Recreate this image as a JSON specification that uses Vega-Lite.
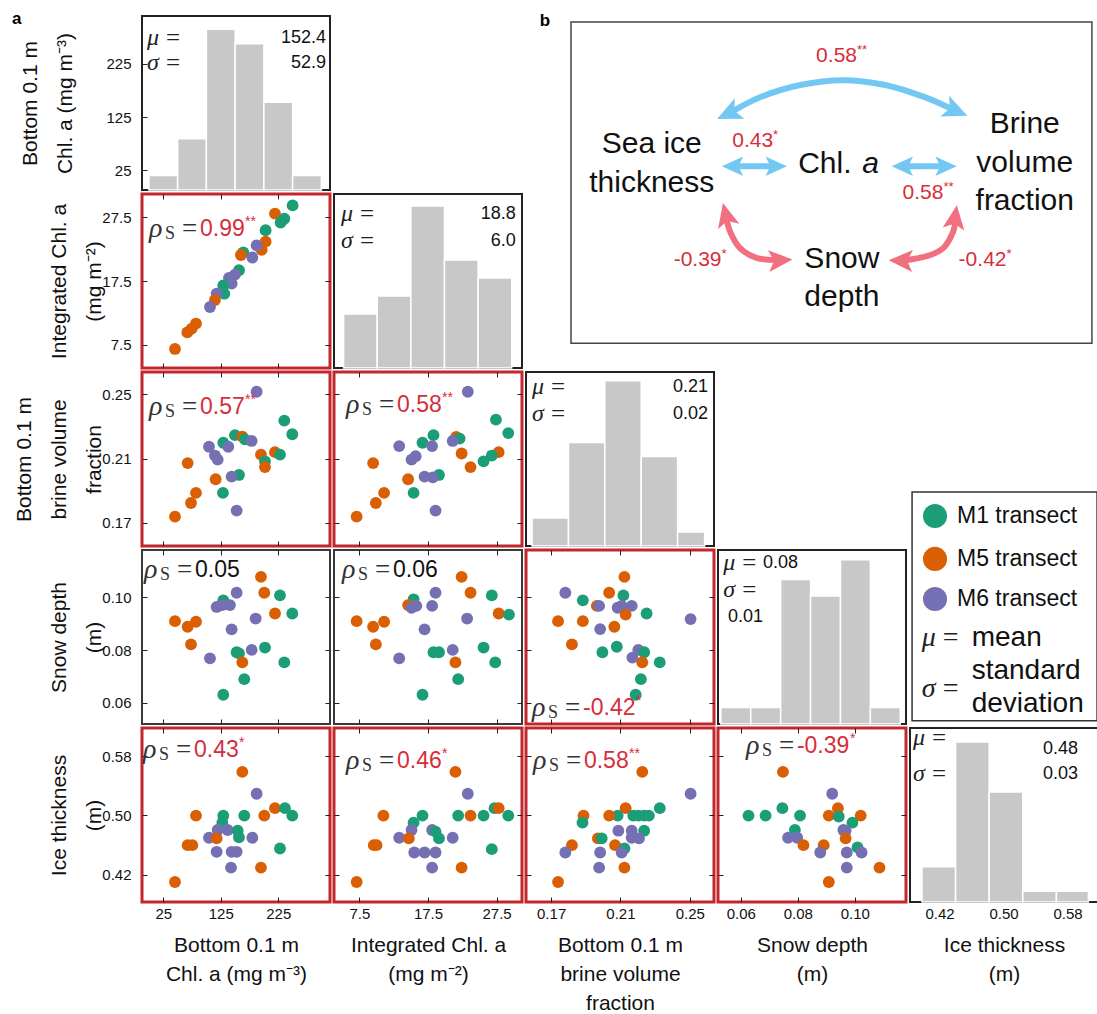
{
"$schema":"https://vega.github.io/schema/vega-lite/v6.json",
"padding":{"left":11,"top":8,"right":0,"bottom":0},
"config":{
 "font":"Liberation Sans",
 "view":{"stroke":null},
 "axis":{"domain":false,"grid":false,"tickColor":"#222","tickSize":-5,"tickWidth":1,"labelFont":"Liberation Sans","labelFontSize":15,"labelColor":"#111","titleFont":"Liberation Sans","titleFontSize":21,"titleFontWeight":"normal","titleColor":"#111"},
 "axisY":{"labelPadding":16,"titlePadding":-3,"titleLineHeight":35},
 "axisX":{"labelPadding":9,"titlePadding":13,"titleLineHeight":29}
},
"bounds":"flush","spacing":4,"columns":5,
"concat":[
  {"width":188,"height":174,"view":{"stroke":"#222","strokeWidth":2},
   "resolve":{"scale":{"y":"independent"}},
   "layer":[
    {"encoding":{
      "x":{"field":"x","type":"quantitative","scale":{"domain":[-12,315],"nice":false,"zero":false},"axis":{"values":[25,125,225],"labels":false,"title":null}},
      "y":{"field":"y","type":"quantitative","scale":{"domain":[0,11.9],"nice":false,"zero":false},"axis":null}},
     "layer":[
      {"data":{"values":[{"x":0,"x2":50,"y":1},{"x":50,"x2":100,"y":3.5},{"x":100,"x2":150,"y":11},{"x":150,"x2":200,"y":10},{"x":200,"x2":250,"y":6},{"x":250,"x2":300,"y":1}]},
       "mark":{"type":"rect","fill":"#c8c8c8","stroke":"#ffffff","strokeWidth":1.5},
       "encoding":{"x2":{"field":"x2"},"y2":{"datum":0}}},
      {"data":{"values":[{"x":-3.3,"y":10.4,"s":"μ"},{"x":-3.3,"y":8.7,"s":"σ"}]},
       "layer":[
        {"mark":{"type":"text","font":"Liberation Serif","fontStyle":"italic","fontSize":24,"align":"left","baseline":"middle","color":"#222"},"encoding":{"text":{"field":"s"}}},
        {"mark":{"type":"text","text":"=","font":"Liberation Serif","fontSize":25,"align":"left","baseline":"middle","dx":19,"color":"#222"}}
       ]},
      {"data":{"values":[{"x":308,"y":10.4,"s":"152.4"},{"x":308,"y":8.7,"s":"52.9"}]},
       "mark":{"type":"text","fontSize":18,"align":"right","baseline":"middle","color":"#111"},"encoding":{"text":{"field":"s"}}}
     ]},
    {"data":{"values":[{"x":-238,"y":309.4}]},
     "mark":{"type":"text","text":"a","fontWeight":"bold","fontSize":17,"align":"left","baseline":"middle","color":"#000"},
     "encoding":{
      "x":{"field":"x","type":"quantitative","scale":{"domain":[-12,315],"nice":false,"zero":false},"axis":{"values":[25,125,225],"labels":false,"title":null}},
      "y":{"field":"y","type":"quantitative","scale":{"domain":[-12,315],"nice":false,"zero":false},"axis":{"values":[25,125,225],"format":"d","titlePadding":30,"title":["Bottom 0.1 m","Chl. a (mg m⁻³)"]}}}}
   ]},
  {"width":188,"height":174,"data":{"values":[]},"mark":"point"},
  {"width":188,"height":174,
   "encoding":{
    "x":{"field":"x","type":"quantitative","scale":{"domain":[-8.64,27.45],"nice":false,"zero":false},"axis":null},
    "y":{"field":"y","type":"quantitative","scale":{"domain":[-1.87,52.3],"reverse":true,"nice":false,"zero":false},"axis":null}},
   "layer":[
    {"data":{"values":[{"x":0,"y":0,"x2":100,"y2":100}]},"mark":{"type":"rect","fill":"#ffffff","fillOpacity":0,"stroke":"#444","strokeWidth":1.5},"encoding":{"x2":{"field":"x2"},"y2":{"field":"y2"}}},
    {"data":{"values":[
      {"g":"top","o":0,"x":30.5,"y":28.3,"c":"#72c8f2"},{"g":"top","o":1,"x":36.3,"y":23.4,"c":"#72c8f2"},{"g":"top","o":2,"x":44.0,"y":19.6,"c":"#72c8f2"},{"g":"top","o":3,"x":52.2,"y":18.1,"c":"#72c8f2"},{"g":"top","o":4,"x":60.3,"y":19.6,"c":"#72c8f2"},{"g":"top","o":5,"x":67.9,"y":23.4,"c":"#72c8f2"},{"g":"top","o":6,"x":73.6,"y":27.5,"c":"#72c8f2"},
      {"g":"l","o":0,"x":31.3,"y":44.9,"c":"#72c8f2"},{"g":"l","o":1,"x":39.1,"y":44.9,"c":"#72c8f2"},
      {"g":"r","o":0,"x":63.9,"y":44.9,"c":"#72c8f2"},{"g":"r","o":1,"x":71.7,"y":44.9,"c":"#72c8f2"},
      {"g":"pl","o":0,"x":29.8,"y":60.5,"c":"#f1707f"},{"g":"pl","o":1,"x":30.5,"y":65.1,"c":"#f1707f"},{"g":"pl","o":2,"x":32.4,"y":70.3,"c":"#f1707f"},{"g":"pl","o":3,"x":35.6,"y":73.4,"c":"#f1707f"},{"g":"pl","o":4,"x":39.9,"y":74.2,"c":"#f1707f"},
      {"g":"pr","o":0,"x":73.7,"y":61.3,"c":"#f1707f"},{"g":"pr","o":1,"x":73.4,"y":65.1,"c":"#f1707f"},{"g":"pr","o":2,"x":71.5,"y":70.3,"c":"#f1707f"},{"g":"pr","o":3,"x":68.3,"y":72.9,"c":"#f1707f"},{"g":"pr","o":4,"x":63.6,"y":74.3,"c":"#f1707f"}
     ]},
     "mark":{"type":"line","interpolate":"cardinal","strokeWidth":6,"strokeCap":"butt"},
     "encoding":{"detail":{"field":"g"},"order":{"field":"o","type":"quantitative"},"color":{"field":"c","type":"nominal","scale":null}}},
    {"data":{"values":[
      {"x":30.5,"y":28.3,"a":245,"z":800,"c":"#72c8f2"},{"x":73.6,"y":27.5,"a":113,"z":800,"c":"#72c8f2"},
      {"x":31.3,"y":44.9,"a":270,"z":600,"c":"#72c8f2"},{"x":39.1,"y":44.9,"a":90,"z":600,"c":"#72c8f2"},
      {"x":63.9,"y":44.9,"a":270,"z":600,"c":"#72c8f2"},{"x":71.7,"y":44.9,"a":90,"z":600,"c":"#72c8f2"},
      {"x":29.8,"y":60.5,"a":346,"z":750,"c":"#f1707f"},{"x":39.9,"y":74.2,"a":86,"z":750,"c":"#f1707f"},
      {"x":73.7,"y":61.3,"a":8,"z":750,"c":"#f1707f"},{"x":63.6,"y":74.3,"a":272,"z":750,"c":"#f1707f"}
     ]},
     "mark":{"type":"point","shape":"M0,-1L0.8,0.75L0,0.35L-0.8,0.75Z","filled":true,"opacity":1},
     "encoding":{"angle":{"field":"a","type":"quantitative","scale":null},"size":{"field":"z","type":"quantitative","scale":null},"color":{"field":"c","type":"nominal","scale":null}}},
    {"data":{"values":[{"x":15.5,"y":38.1,"s":"Sea ice"},{"x":15.5,"y":50.1,"s":"thickness"},{"x":87.1,"y":31.9,"s":"Brine"},{"x":87.1,"y":43.8,"s":"volume"},{"x":87.1,"y":55.8,"s":"fraction"},{"x":52.0,"y":73.9,"s":"Snow"},{"x":52.0,"y":85.7,"s":"depth"}]},
     "mark":{"type":"text","fontSize":30,"align":"center","baseline":"middle","color":"#111"},"encoding":{"text":{"field":"s"}}},
    {"data":{"values":[{"x":43.6,"y":44.3}]},"mark":{"type":"text","text":"Chl.","fontSize":30,"align":"left","baseline":"middle","color":"#111"}},
    {"data":{"values":[{"x":55.9,"y":44.3}]},"mark":{"type":"text","text":"a","fontSize":30,"fontStyle":"italic","align":"left","baseline":"middle","color":"#111"}},
    {"data":{"values":[{"x":54.9,"y":10.6,"s":"0.58","st":"**"},{"x":38.8,"y":37.1,"s":"0.43","st":"*"},{"x":71.5,"y":53.2,"s":"0.58","st":"**"},{"x":28.9,"y":74.2,"s":"-0.39","st":"*"},{"x":83.6,"y":74.2,"s":"-0.42","st":"*"}]},
     "layer":[
      {"mark":{"type":"text","fontSize":21,"align":"right","baseline":"middle","color":"#d62e3a"},"encoding":{"text":{"field":"s"}}},
      {"mark":{"type":"text","fontSize":13,"align":"left","baseline":"middle","dy":-6,"color":"#d62e3a"},"encoding":{"text":{"field":"st"}}}
     ]},
    {"data":{"values":[{"x":-6,"y":-0.3}]},"mark":{"type":"text","text":"b","fontWeight":"bold","fontSize":17,"align":"left","baseline":"middle","color":"#000"}}
   ]},
  {"width":188,"height":174,"data":{"values":[]},"mark":"point"},
  {"width":188,"height":174,"data":{"values":[]},"mark":"point"},

  {"width":188,"height":174,"view":{"stroke":"#c1272d","strokeWidth":3},
   "encoding":{
    "x":{"field":"x","type":"quantitative","scale":{"domain":[-12,315],"nice":false,"zero":false},"axis":{"orient":"bottom","values":[25,125,225],"labels":false,"title":null}},
    "y":{"field":"y","type":"quantitative","scale":{"domain":[3.8,31.2],"nice":false,"zero":false},"axis":{"orient":"left","values":[7.5,17.5,27.5],"format":".1f","title":["Integrated Chl. a","(mg m⁻²)"]}}},
   "layer":[
    {"data":{"values":[{"x":250,"y":29.4,"t":"M1"},{"x":219.3,"y":28.1,"t":"M5"},{"x":235.5,"y":27.3,"t":"M1"},{"x":229.1,"y":26.7,"t":"M1"},{"x":203,"y":25.5,"t":"M1"},{"x":203,"y":23.7,"t":"M5"},{"x":196.1,"y":22.4,"t":"M5"},{"x":187.4,"y":23.1,"t":"M6"},{"x":164.2,"y":22.0,"t":"M1"},{"x":160.1,"y":21.6,"t":"M5"},{"x":179.9,"y":21.2,"t":"M6"},{"x":156.7,"y":19.2,"t":"M1"},{"x":149.7,"y":18.5,"t":"M6"},{"x":139.3,"y":18.0,"t":"M6"},{"x":143.9,"y":17.1,"t":"M6"},{"x":129.4,"y":16.8,"t":"M1"},{"x":131.2,"y":15.5,"t":"M1"},{"x":117.8,"y":15.5,"t":"M6"},{"x":114.9,"y":14.5,"t":"M5"},{"x":106.2,"y":13.4,"t":"M6"},{"x":81.9,"y":10.8,"t":"M5"},{"x":74.3,"y":10.0,"t":"M5"},{"x":66.8,"y":9.4,"t":"M5"},{"x":45.4,"y":6.8,"t":"M5"}]},
     "mark":{"type":"circle","size":140,"opacity":1},
     "encoding":{"color":{"field":"t","type":"nominal","scale":{"domain":["M1","M5","M6"],"range":["#1b9e77","#d95f02","#7570b3"]},"legend":null}}},
    {"data":{"values":[{"x":0.2,"y":25.7}]},
     "encoding":{
      "x":{"field":"x","type":"quantitative","scale":{"domain":[-12,315],"nice":false,"zero":false},"axis":{"orient":"top","values":[25,125,225],"labels":false,"title":null}},
      "y":{"field":"y","type":"quantitative","scale":{"domain":[3.8,31.2],"nice":false,"zero":false},"axis":{"orient":"right","values":[7.5,17.5,27.5],"labels":false,"title":null}}},
     "layer":[
      {"mark":{"type":"text","text":"ρ","font":"Liberation Serif","fontStyle":"italic","fontSize":28,"align":"left","baseline":"middle","color":"#333"}},
      {"mark":{"type":"text","text":"S","font":"Liberation Serif","fontSize":18,"align":"left","baseline":"middle","dx":16,"dy":5,"color":"#333"}},
      {"mark":{"type":"text","text":"=","font":"Liberation Serif","fontSize":27,"align":"left","baseline":"middle","dx":33,"color":"#333"}},
      {"mark":{"type":"text","text":"0.99","fontSize":23,"align":"left","baseline":"middle","dx":51,"color":"#d62e3a"}},
      {"mark":{"type":"text","text":"**","fontSize":14,"align":"left","baseline":"middle","dx":96,"dy":-7,"color":"#d62e3a"}}
     ]}
   ]},
  {"width":188,"height":174,"view":{"stroke":"#222","strokeWidth":2},
   "encoding":{
    "x":{"field":"x","type":"quantitative","scale":{"domain":[3.8,31.2],"nice":false,"zero":false},"axis":{"values":[7.5,17.5,27.5],"labels":false,"title":null}},
    "y":{"field":"y","type":"quantitative","scale":{"domain":[0,9.67],"nice":false,"zero":false},"axis":null}},
   "layer":[
    {"data":{"values":[{"x":5.2,"x2":10.1,"y":3},{"x":10.1,"x2":15.0,"y":4},{"x":15.0,"x2":19.9,"y":9},{"x":19.9,"x2":24.8,"y":6},{"x":24.8,"x2":29.7,"y":5}]},
     "mark":{"type":"rect","fill":"#c8c8c8","stroke":"#ffffff","strokeWidth":1.5},
     "encoding":{"x2":{"field":"x2"},"y2":{"datum":0}}},
    {"data":{"values":[{"x":4.82,"y":8.56,"s":"μ"},{"x":4.82,"y":7.06,"s":"σ"}]},
     "layer":[
      {"mark":{"type":"text","font":"Liberation Serif","fontStyle":"italic","fontSize":24,"align":"left","baseline":"middle","color":"#222"},"encoding":{"text":{"field":"s"}}},
      {"mark":{"type":"text","text":"=","font":"Liberation Serif","fontSize":25,"align":"left","baseline":"middle","dx":19,"color":"#222"}}
     ]},
    {"data":{"values":[{"x":30.3,"y":8.56,"s":"18.8"},{"x":30.3,"y":7.06,"s":"6.0"}]},
     "mark":{"type":"text","fontSize":18,"align":"right","baseline":"middle","color":"#111"},"encoding":{"text":{"field":"s"}}}
   ]},
  {"width":188,"height":174,"data":{"values":[]},"mark":"point"},
  {"width":188,"height":174,"data":{"values":[]},"mark":"point"},
  {"width":188,"height":174,"data":{"values":[]},"mark":"point"},

  {"width":188,"height":174,"view":{"stroke":"#c1272d","strokeWidth":3},
   "encoding":{
    "x":{"field":"x","type":"quantitative","scale":{"domain":[-12,315],"nice":false,"zero":false},"axis":{"orient":"bottom","values":[25,125,225],"labels":false,"title":null}},
    "y":{"field":"y","type":"quantitative","scale":{"domain":[0.1555,0.264],"nice":false,"zero":false},"axis":{"orient":"left","values":[0.17,0.21,0.25],"format":".2f","title":["Bottom 0.1 m","brine volume","fraction"]}}},
   "layer":[
    {"data":{"values":[{"x":187.4,"y":0.2517,"t":"M6"},{"x":235.5,"y":0.2337,"t":"M1"},{"x":249.4,"y":0.2252,"t":"M1"},{"x":149.7,"y":0.2246,"t":"M1"},{"x":162.5,"y":0.2237,"t":"M5"},{"x":167.1,"y":0.222,"t":"M1"},{"x":178.7,"y":0.221,"t":"M6"},{"x":129.4,"y":0.2199,"t":"M1"},{"x":104.5,"y":0.2174,"t":"M6"},{"x":138.1,"y":0.2174,"t":"M6"},{"x":114.9,"y":0.2119,"t":"M6"},{"x":119.6,"y":0.2094,"t":"M6"},{"x":194.9,"y":0.2125,"t":"M5"},{"x":219.3,"y":0.214,"t":"M5"},{"x":228,"y":0.2125,"t":"M1"},{"x":201.9,"y":0.2083,"t":"M1"},{"x":201.9,"y":0.2047,"t":"M5"},{"x":67.4,"y":0.2072,"t":"M5"},{"x":156.7,"y":0.1998,"t":"M1"},{"x":143.9,"y":0.1988,"t":"M6"},{"x":116.1,"y":0.1971,"t":"M5"},{"x":81.9,"y":0.1886,"t":"M5"},{"x":128.8,"y":0.1886,"t":"M1"},{"x":73.2,"y":0.1823,"t":"M5"},{"x":152.6,"y":0.1776,"t":"M6"},{"x":45.4,"y":0.1738,"t":"M5"}]},
     "mark":{"type":"circle","size":140,"opacity":1},
     "encoding":{"color":{"field":"t","type":"nominal","scale":{"domain":["M1","M5","M6"],"range":["#1b9e77","#d95f02","#7570b3"]},"legend":null}}},
    {"data":{"values":[{"x":0.2,"y":0.2422}]},
     "encoding":{
      "x":{"field":"x","type":"quantitative","scale":{"domain":[-12,315],"nice":false,"zero":false},"axis":{"orient":"top","values":[25,125,225],"labels":false,"title":null}},
      "y":{"field":"y","type":"quantitative","scale":{"domain":[0.1555,0.264],"nice":false,"zero":false},"axis":{"orient":"right","values":[0.17,0.21,0.25],"labels":false,"title":null}}},
     "layer":[
      {"mark":{"type":"text","text":"ρ","font":"Liberation Serif","fontStyle":"italic","fontSize":28,"align":"left","baseline":"middle","color":"#333"}},
      {"mark":{"type":"text","text":"S","font":"Liberation Serif","fontSize":18,"align":"left","baseline":"middle","dx":16,"dy":5,"color":"#333"}},
      {"mark":{"type":"text","text":"=","font":"Liberation Serif","fontSize":27,"align":"left","baseline":"middle","dx":33,"color":"#333"}},
      {"mark":{"type":"text","text":"0.57","fontSize":23,"align":"left","baseline":"middle","dx":51,"color":"#d62e3a"}},
      {"mark":{"type":"text","text":"**","fontSize":14,"align":"left","baseline":"middle","dx":96,"dy":-7,"color":"#d62e3a"}}
     ]}
   ]},
  {"width":188,"height":174,"view":{"stroke":"#c1272d","strokeWidth":3},
   "encoding":{
    "x":{"field":"x","type":"quantitative","scale":{"domain":[3.8,31.2],"nice":false,"zero":false},"axis":{"orient":"bottom","values":[7.5,17.5,27.5],"labels":false,"title":null}},
    "y":{"field":"y","type":"quantitative","scale":{"domain":[0.1555,0.264],"nice":false,"zero":false},"axis":{"orient":"left","values":[0.17,0.21,0.25],"labels":false,"title":null}}},
   "layer":[
    {"data":{"values":[{"x":23.3,"y":0.2517,"t":"M6"},{"x":27.4,"y":0.2343,"t":"M1"},{"x":29.2,"y":0.2259,"t":"M1"},{"x":18.3,"y":0.2246,"t":"M1"},{"x":21.6,"y":0.2235,"t":"M5"},{"x":22.1,"y":0.2225,"t":"M1"},{"x":21.1,"y":0.221,"t":"M6"},{"x":16.7,"y":0.2199,"t":"M1"},{"x":18.1,"y":0.2178,"t":"M6"},{"x":13.3,"y":0.2178,"t":"M6"},{"x":15.7,"y":0.2115,"t":"M6"},{"x":15.1,"y":0.2094,"t":"M6"},{"x":22.4,"y":0.2132,"t":"M5"},{"x":27.8,"y":0.214,"t":"M5"},{"x":26.8,"y":0.2119,"t":"M1"},{"x":25.6,"y":0.2083,"t":"M1"},{"x":23.7,"y":0.2047,"t":"M5"},{"x":9.5,"y":0.2072,"t":"M5"},{"x":19.1,"y":0.1998,"t":"M1"},{"x":17.0,"y":0.1988,"t":"M6"},{"x":18.2,"y":0.1983,"t":"M6"},{"x":14.6,"y":0.1971,"t":"M5"},{"x":11.1,"y":0.1886,"t":"M5"},{"x":15.4,"y":0.1886,"t":"M1"},{"x":9.9,"y":0.1823,"t":"M5"},{"x":18.6,"y":0.1776,"t":"M6"},{"x":7.1,"y":0.1738,"t":"M5"}]},
     "mark":{"type":"circle","size":140,"opacity":1},
     "encoding":{"color":{"field":"t","type":"nominal","scale":{"domain":["M1","M5","M6"],"range":["#1b9e77","#d95f02","#7570b3"]},"legend":null}}},
    {"data":{"values":[{"x":5.55,"y":0.2434}]},
     "encoding":{
      "x":{"field":"x","type":"quantitative","scale":{"domain":[3.8,31.2],"nice":false,"zero":false},"axis":{"orient":"top","values":[7.5,17.5,27.5],"labels":false,"title":null}},
      "y":{"field":"y","type":"quantitative","scale":{"domain":[0.1555,0.264],"nice":false,"zero":false},"axis":{"orient":"right","values":[0.17,0.21,0.25],"labels":false,"title":null}}},
     "layer":[
      {"mark":{"type":"text","text":"ρ","font":"Liberation Serif","fontStyle":"italic","fontSize":28,"align":"left","baseline":"middle","color":"#333"}},
      {"mark":{"type":"text","text":"S","font":"Liberation Serif","fontSize":18,"align":"left","baseline":"middle","dx":16,"dy":5,"color":"#333"}},
      {"mark":{"type":"text","text":"=","font":"Liberation Serif","fontSize":27,"align":"left","baseline":"middle","dx":33,"color":"#333"}},
      {"mark":{"type":"text","text":"0.58","fontSize":23,"align":"left","baseline":"middle","dx":51,"color":"#d62e3a"}},
      {"mark":{"type":"text","text":"**","fontSize":14,"align":"left","baseline":"middle","dx":96,"dy":-7,"color":"#d62e3a"}}
     ]}
   ]},
  {"width":188,"height":174,"view":{"stroke":"#222","strokeWidth":2},
   "encoding":{
    "x":{"field":"x","type":"quantitative","scale":{"domain":[0.1555,0.264],"nice":false,"zero":false},"axis":{"values":[0.17,0.21,0.25],"labels":false,"title":null}},
    "y":{"field":"y","type":"quantitative","scale":{"domain":[0,12.43],"nice":false,"zero":false},"axis":null}},
   "layer":[
    {"data":{"values":[{"x":0.159,"x2":0.180,"y":2},{"x":0.180,"x2":0.201,"y":7.4},{"x":0.201,"x2":0.222,"y":11.8},{"x":0.222,"x2":0.243,"y":6.4},{"x":0.243,"x2":0.2586,"y":1}]},
     "mark":{"type":"rect","fill":"#c8c8c8","stroke":"#ffffff","strokeWidth":1.5},
     "encoding":{"x2":{"field":"x2"},"y2":{"datum":0}}},
    {"data":{"values":[{"x":0.159,"y":11.35,"s":"μ"},{"x":0.159,"y":9.43,"s":"σ"}]},
     "layer":[
      {"mark":{"type":"text","font":"Liberation Serif","fontStyle":"italic","fontSize":24,"align":"left","baseline":"middle","color":"#222"},"encoding":{"text":{"field":"s"}}},
      {"mark":{"type":"text","text":"=","font":"Liberation Serif","fontSize":25,"align":"left","baseline":"middle","dx":19,"color":"#222"}}
     ]},
    {"data":{"values":[{"x":0.2605,"y":11.35,"s":"0.21"},{"x":0.2605,"y":9.43,"s":"0.02"}]},
     "mark":{"type":"text","fontSize":18,"align":"right","baseline":"middle","color":"#111"},"encoding":{"text":{"field":"s"}}}
   ]},
  {"width":188,"height":174,"data":{"values":[]},"mark":"point"},
  {"width":188,"height":174,"data":{"values":[]},"mark":"point"},

  {"width":188,"height":174,"view":{"stroke":"#3a3a3a","strokeWidth":2},
   "encoding":{
    "x":{"field":"x","type":"quantitative","scale":{"domain":[-12,315],"nice":false,"zero":false},"axis":{"orient":"bottom","values":[25,125,225],"labels":false,"title":null}},
    "y":{"field":"y","type":"quantitative","scale":{"domain":[0.052,0.118],"nice":false,"zero":false},"axis":{"orient":"left","values":[0.06,0.08,0.10],"format":".2f","title":["Snow depth","(m)"]}}},
   "layer":[
    {"data":{"values":[{"x":194.9,"y":0.1078,"t":"M5"},{"x":200.7,"y":0.1018,"t":"M5"},{"x":152.6,"y":0.1018,"t":"M6"},{"x":228,"y":0.1008,"t":"M1"},{"x":129.4,"y":0.0989,"t":"M1"},{"x":117.8,"y":0.0964,"t":"M6"},{"x":127.7,"y":0.0971,"t":"M6"},{"x":141,"y":0.0971,"t":"M6"},{"x":219.3,"y":0.0939,"t":"M5"},{"x":249.4,"y":0.0939,"t":"M1"},{"x":185.7,"y":0.092,"t":"M6"},{"x":45.4,"y":0.091,"t":"M5"},{"x":67.4,"y":0.0889,"t":"M5"},{"x":81.9,"y":0.0908,"t":"M5"},{"x":143.9,"y":0.0879,"t":"M6"},{"x":73.2,"y":0.0822,"t":"M5"},{"x":201.9,"y":0.081,"t":"M1"},{"x":178.7,"y":0.0801,"t":"M6"},{"x":152.6,"y":0.0792,"t":"M1"},{"x":156.7,"y":0.0788,"t":"M1"},{"x":106.2,"y":0.0769,"t":"M6"},{"x":162.5,"y":0.0754,"t":"M5"},{"x":235.5,"y":0.0754,"t":"M1"},{"x":165.9,"y":0.069,"t":"M1"},{"x":129.4,"y":0.0631,"t":"M1"}]},
     "mark":{"type":"circle","size":140,"opacity":1},
     "encoding":{"color":{"field":"t","type":"nominal","scale":{"domain":["M1","M5","M6"],"range":["#1b9e77","#d95f02","#7570b3"]},"legend":null}}},
    {"data":{"values":[{"x":-8.5,"y":0.1104}]},
     "encoding":{
      "x":{"field":"x","type":"quantitative","scale":{"domain":[-12,315],"nice":false,"zero":false},"axis":{"orient":"top","values":[25,125,225],"labels":false,"title":null}},
      "y":{"field":"y","type":"quantitative","scale":{"domain":[0.052,0.118],"nice":false,"zero":false},"axis":{"orient":"right","values":[0.06,0.08,0.10],"labels":false,"title":null}}},
     "layer":[
      {"mark":{"type":"text","text":"ρ","font":"Liberation Serif","fontStyle":"italic","fontSize":28,"align":"left","baseline":"middle","color":"#333"}},
      {"mark":{"type":"text","text":"S","font":"Liberation Serif","fontSize":18,"align":"left","baseline":"middle","dx":16,"dy":5,"color":"#333"}},
      {"mark":{"type":"text","text":"=","font":"Liberation Serif","fontSize":27,"align":"left","baseline":"middle","dx":33,"color":"#333"}},
      {"mark":{"type":"text","text":"0.05","fontSize":23,"align":"left","baseline":"middle","dx":51,"color":"#111"}}
     ]}
   ]},
  {"width":188,"height":174,"view":{"stroke":"#3a3a3a","strokeWidth":2},
   "encoding":{
    "x":{"field":"x","type":"quantitative","scale":{"domain":[3.8,31.2],"nice":false,"zero":false},"axis":{"orient":"bottom","values":[7.5,17.5,27.5],"labels":false,"title":null}},
    "y":{"field":"y","type":"quantitative","scale":{"domain":[0.052,0.118],"nice":false,"zero":false},"axis":{"orient":"left","values":[0.06,0.08,0.10],"labels":false,"title":null}}},
   "layer":[
    {"data":{"values":[{"x":22.4,"y":0.1078,"t":"M5"},{"x":23.7,"y":0.1018,"t":"M5"},{"x":18.6,"y":0.1018,"t":"M6"},{"x":26.8,"y":0.1008,"t":"M1"},{"x":15.4,"y":0.0993,"t":"M1"},{"x":14.6,"y":0.0971,"t":"M5"},{"x":15.1,"y":0.0961,"t":"M6"},{"x":15.8,"y":0.0968,"t":"M6"},{"x":18.1,"y":0.0968,"t":"M6"},{"x":27.8,"y":0.0939,"t":"M5"},{"x":29.3,"y":0.0935,"t":"M1"},{"x":23.2,"y":0.092,"t":"M6"},{"x":7.1,"y":0.091,"t":"M5"},{"x":9.5,"y":0.0889,"t":"M5"},{"x":11.1,"y":0.0908,"t":"M5"},{"x":17.0,"y":0.0879,"t":"M6"},{"x":9.9,"y":0.0822,"t":"M5"},{"x":25.6,"y":0.081,"t":"M1"},{"x":21.1,"y":0.0801,"t":"M6"},{"x":18.3,"y":0.0792,"t":"M1"},{"x":19.1,"y":0.0792,"t":"M1"},{"x":13.3,"y":0.0769,"t":"M6"},{"x":21.5,"y":0.0754,"t":"M5"},{"x":27.3,"y":0.0754,"t":"M1"},{"x":21.9,"y":0.069,"t":"M1"},{"x":16.7,"y":0.0631,"t":"M1"}]},
     "mark":{"type":"circle","size":140,"opacity":1},
     "encoding":{"color":{"field":"t","type":"nominal","scale":{"domain":["M1","M5","M6"],"range":["#1b9e77","#d95f02","#7570b3"]},"legend":null}}},
    {"data":{"values":[{"x":4.97,"y":0.1104}]},
     "encoding":{
      "x":{"field":"x","type":"quantitative","scale":{"domain":[3.8,31.2],"nice":false,"zero":false},"axis":{"orient":"top","values":[7.5,17.5,27.5],"labels":false,"title":null}},
      "y":{"field":"y","type":"quantitative","scale":{"domain":[0.052,0.118],"nice":false,"zero":false},"axis":{"orient":"right","values":[0.06,0.08,0.10],"labels":false,"title":null}}},
     "layer":[
      {"mark":{"type":"text","text":"ρ","font":"Liberation Serif","fontStyle":"italic","fontSize":28,"align":"left","baseline":"middle","color":"#333"}},
      {"mark":{"type":"text","text":"S","font":"Liberation Serif","fontSize":18,"align":"left","baseline":"middle","dx":16,"dy":5,"color":"#333"}},
      {"mark":{"type":"text","text":"=","font":"Liberation Serif","fontSize":27,"align":"left","baseline":"middle","dx":33,"color":"#333"}},
      {"mark":{"type":"text","text":"0.06","fontSize":23,"align":"left","baseline":"middle","dx":51,"color":"#111"}}
     ]}
   ]},
  {"width":188,"height":174,"view":{"stroke":"#c1272d","strokeWidth":3},
   "encoding":{
    "x":{"field":"x","type":"quantitative","scale":{"domain":[0.1555,0.264],"nice":false,"zero":false},"axis":{"orient":"bottom","values":[0.17,0.21,0.25],"labels":false,"title":null}},
    "y":{"field":"y","type":"quantitative","scale":{"domain":[0.052,0.118],"nice":false,"zero":false},"axis":{"orient":"left","values":[0.06,0.08,0.10],"labels":false,"title":null}}},
   "layer":[
    {"data":{"values":[{"x":0.2123,"y":0.1078,"t":"M5"},{"x":0.1782,"y":0.1018,"t":"M6"},{"x":0.2035,"y":0.1018,"t":"M5"},{"x":0.2117,"y":0.1008,"t":"M1"},{"x":0.1883,"y":0.0989,"t":"M1"},{"x":0.1964,"y":0.0968,"t":"M5"},{"x":0.1977,"y":0.0968,"t":"M6"},{"x":0.2084,"y":0.0961,"t":"M6"},{"x":0.2107,"y":0.0968,"t":"M6"},{"x":0.2165,"y":0.0968,"t":"M6"},{"x":0.213,"y":0.0935,"t":"M5"},{"x":0.2251,"y":0.0939,"t":"M1"},{"x":0.2505,"y":0.0918,"t":"M6"},{"x":0.174,"y":0.091,"t":"M5"},{"x":0.1883,"y":0.091,"t":"M5"},{"x":0.2065,"y":0.0889,"t":"M5"},{"x":0.1983,"y":0.088,"t":"M6"},{"x":0.182,"y":0.0822,"t":"M5"},{"x":0.2079,"y":0.0813,"t":"M1"},{"x":0.1996,"y":0.0792,"t":"M1"},{"x":0.2203,"y":0.0801,"t":"M6"},{"x":0.2237,"y":0.0792,"t":"M1"},{"x":0.2169,"y":0.0772,"t":"M6"},{"x":0.2226,"y":0.0754,"t":"M5"},{"x":0.2327,"y":0.0754,"t":"M1"},{"x":0.2218,"y":0.069,"t":"M1"},{"x":0.2188,"y":0.0631,"t":"M1"}]},
     "mark":{"type":"circle","size":140,"opacity":1},
     "encoding":{"color":{"field":"t","type":"nominal","scale":{"domain":["M1","M5","M6"],"range":["#1b9e77","#d95f02","#7570b3"]},"legend":null}}},
    {"data":{"values":[{"x":0.159,"y":0.0581}]},
     "encoding":{
      "x":{"field":"x","type":"quantitative","scale":{"domain":[0.1555,0.264],"nice":false,"zero":false},"axis":{"orient":"top","values":[0.17,0.21,0.25],"labels":false,"title":null}},
      "y":{"field":"y","type":"quantitative","scale":{"domain":[0.052,0.118],"nice":false,"zero":false},"axis":{"orient":"right","values":[0.06,0.08,0.10],"labels":false,"title":null}}},
     "layer":[
      {"mark":{"type":"text","text":"ρ","font":"Liberation Serif","fontStyle":"italic","fontSize":28,"align":"left","baseline":"middle","color":"#333"}},
      {"mark":{"type":"text","text":"S","font":"Liberation Serif","fontSize":18,"align":"left","baseline":"middle","dx":16,"dy":5,"color":"#333"}},
      {"mark":{"type":"text","text":"=","font":"Liberation Serif","fontSize":27,"align":"left","baseline":"middle","dx":33,"color":"#333"}},
      {"mark":{"type":"text","text":"-0.42","fontSize":23,"align":"left","baseline":"middle","dx":51,"color":"#d62e3a"}},
      {"mark":{"type":"text","text":"*","fontSize":14,"align":"left","baseline":"middle","dx":104,"dy":-7,"color":"#d62e3a"}}
     ]}
   ]},
  {"width":188,"height":174,"view":{"stroke":"#222","strokeWidth":2},
   "encoding":{
    "x":{"field":"x","type":"quantitative","scale":{"domain":[0.052,0.118],"nice":false,"zero":false},"axis":{"values":[0.06,0.08,0.10],"labels":false,"title":null}},
    "y":{"field":"y","type":"quantitative","scale":{"domain":[0,10.6],"nice":false,"zero":false},"axis":null}},
   "layer":[
    {"data":{"values":[{"x":0.053,"x2":0.0635,"y":1},{"x":0.0635,"x2":0.074,"y":1},{"x":0.074,"x2":0.0845,"y":8.8},{"x":0.0845,"x2":0.095,"y":7.8},{"x":0.095,"x2":0.1055,"y":10},{"x":0.1055,"x2":0.116,"y":1}]},
     "mark":{"type":"rect","fill":"#c8c8c8","stroke":"#ffffff","strokeWidth":1.5},
     "encoding":{"x2":{"field":"x2"},"y2":{"datum":0}}},
    {"data":{"values":[{"x":0.0538,"y":9.81,"s":"μ"},{"x":0.0538,"y":8.16,"s":"σ"}]},
     "layer":[
      {"mark":{"type":"text","font":"Liberation Serif","fontStyle":"italic","fontSize":24,"align":"left","baseline":"middle","color":"#222"},"encoding":{"text":{"field":"s"}}},
      {"mark":{"type":"text","text":"=","font":"Liberation Serif","fontSize":25,"align":"left","baseline":"middle","dx":19,"color":"#222"}}
     ]},
    {"data":{"values":[{"x":0.0678,"y":9.81,"s":"0.08"},{"x":0.0555,"y":6.52,"s":"0.01"}]},
     "mark":{"type":"text","fontSize":18,"align":"left","baseline":"middle","color":"#111"},"encoding":{"text":{"field":"s"}}}
   ]},
  {"width":188,"height":174,
   "encoding":{
    "x":{"field":"x","type":"quantitative","scale":{"domain":[0,100],"nice":false,"zero":false},"axis":null},
    "y":{"field":"y","type":"quantitative","scale":{"domain":[50.57,100],"reverse":true,"nice":false,"zero":false},"axis":null}},
   "layer":[
    {"data":{"values":[{"x":1.1,"y":34.1,"x2":99.5,"y2":99.1}]},"mark":{"type":"rect","fill":"#ffffff","fillOpacity":0,"stroke":"#333","strokeWidth":1.5},"encoding":{"x2":{"field":"x2"},"y2":{"field":"y2"}}},
    {"data":{"values":[{"x":13.3,"y":40.9,"t":"M1"},{"x":13.3,"y":53.1,"t":"M5"},{"x":13.3,"y":64.5,"t":"M6"}]},"mark":{"type":"circle","size":580,"opacity":1},
     "encoding":{"color":{"field":"t","type":"nominal","scale":{"domain":["M1","M5","M6"],"range":["#1b9e77","#d95f02","#7570b3"]},"legend":null}}},
    {"data":{"values":[{"x":25,"y":40.9,"s":"M1 transect"},{"x":25,"y":53.1,"s":"M5 transect"},{"x":25,"y":64.5,"s":"M6 transect"}]},"mark":{"type":"text","fontSize":23,"align":"left","baseline":"middle","color":"#111"},"encoding":{"text":{"field":"s"}}},
    {"data":{"values":[{"x":6.2,"y":75.5,"s":"μ"},{"x":6.2,"y":90.1,"s":"σ"}]},
     "layer":[
      {"mark":{"type":"text","font":"Liberation Serif","fontStyle":"italic","fontSize":28,"align":"left","baseline":"middle","color":"#222"},"encoding":{"text":{"field":"s"}}},
      {"mark":{"type":"text","text":"=","font":"Liberation Serif","fontSize":28,"align":"left","baseline":"middle","dx":21,"color":"#222"}}
     ]},
    {"data":{"values":[{"x":32.8,"y":75.5,"s":"mean"},{"x":32.8,"y":84.9,"s":"standard"},{"x":32.8,"y":94.3,"s":"deviation"}]},"mark":{"type":"text","fontSize":28,"align":"left","baseline":"middle","color":"#111"},"encoding":{"text":{"field":"s"}}}
   ]},

  {"width":188,"height":174,"view":{"stroke":"#c1272d","strokeWidth":3},
   "encoding":{
    "x":{"field":"x","type":"quantitative","scale":{"domain":[-12,315],"nice":false,"zero":false},"axis":{"orient":"bottom","values":[25,125,225],"format":"d","title":["Bottom 0.1 m","Chl. a (mg m⁻³)"]}},
    "y":{"field":"y","type":"quantitative","scale":{"domain":[0.383,0.618],"nice":false,"zero":false},"axis":{"orient":"left","values":[0.42,0.50,0.58],"format":".2f","title":["Ice thickness","(m)"]}}},
   "layer":[
    {"data":{"values":[{"x":162.5,"y":0.5587,"t":"M5"},{"x":187.4,"y":0.5292,"t":"M6"},{"x":219.3,"y":0.5097,"t":"M5"},{"x":236.7,"y":0.5097,"t":"M1"},{"x":249.4,"y":0.4997,"t":"M1"},{"x":81.9,"y":0.4997,"t":"M5"},{"x":129.4,"y":0.4997,"t":"M1"},{"x":165.9,"y":0.4997,"t":"M1"},{"x":200.7,"y":0.4997,"t":"M5"},{"x":127.7,"y":0.4902,"t":"M1"},{"x":119.6,"y":0.4802,"t":"M6"},{"x":137,"y":0.4802,"t":"M6"},{"x":154.4,"y":0.4793,"t":"M1"},{"x":156.7,"y":0.4703,"t":"M1"},{"x":104.5,"y":0.4698,"t":"M6"},{"x":117.8,"y":0.4689,"t":"M5"},{"x":179.9,"y":0.4698,"t":"M6"},{"x":67.4,"y":0.4598,"t":"M5"},{"x":75.5,"y":0.4598,"t":"M5"},{"x":228,"y":0.4553,"t":"M1"},{"x":117.8,"y":0.4508,"t":"M6"},{"x":143.9,"y":0.4508,"t":"M6"},{"x":152.6,"y":0.4508,"t":"M6"},{"x":142.8,"y":0.4295,"t":"M6"},{"x":194.9,"y":0.4295,"t":"M5"},{"x":45.4,"y":0.41,"t":"M5"}]},
     "mark":{"type":"circle","size":140,"opacity":1},
     "encoding":{"color":{"field":"t","type":"nominal","scale":{"domain":["M1","M5","M6"],"range":["#1b9e77","#d95f02","#7570b3"]},"legend":null}}},
    {"data":{"values":[{"x":-10.3,"y":0.5883}]},
     "encoding":{
      "x":{"field":"x","type":"quantitative","scale":{"domain":[-12,315],"nice":false,"zero":false},"axis":{"orient":"top","values":[25,125,225],"labels":false,"title":null}},
      "y":{"field":"y","type":"quantitative","scale":{"domain":[0.383,0.618],"nice":false,"zero":false},"axis":{"orient":"right","values":[0.42,0.50,0.58],"labels":false,"title":null}}},
     "layer":[
      {"mark":{"type":"text","text":"ρ","font":"Liberation Serif","fontStyle":"italic","fontSize":28,"align":"left","baseline":"middle","color":"#333"}},
      {"mark":{"type":"text","text":"S","font":"Liberation Serif","fontSize":18,"align":"left","baseline":"middle","dx":16,"dy":5,"color":"#333"}},
      {"mark":{"type":"text","text":"=","font":"Liberation Serif","fontSize":27,"align":"left","baseline":"middle","dx":33,"color":"#333"}},
      {"mark":{"type":"text","text":"0.43","fontSize":23,"align":"left","baseline":"middle","dx":51,"color":"#d62e3a"}},
      {"mark":{"type":"text","text":"*","fontSize":14,"align":"left","baseline":"middle","dx":96,"dy":-7,"color":"#d62e3a"}}
     ]}
   ]},
  {"width":188,"height":174,"view":{"stroke":"#c1272d","strokeWidth":3},
   "encoding":{
    "x":{"field":"x","type":"quantitative","scale":{"domain":[3.8,31.2],"nice":false,"zero":false},"axis":{"orient":"bottom","values":[7.5,17.5,27.5],"format":".1f","title":["Integrated Chl. a","(mg m⁻²)"]}},
    "y":{"field":"y","type":"quantitative","scale":{"domain":[0.383,0.618],"nice":false,"zero":false},"axis":{"orient":"left","values":[0.42,0.50,0.58],"labels":false,"title":null}}},
   "layer":[
    {"data":{"values":[{"x":21.5,"y":0.5587,"t":"M5"},{"x":23.3,"y":0.5292,"t":"M6"},{"x":27.2,"y":0.5097,"t":"M1"},{"x":27.8,"y":0.5097,"t":"M5"},{"x":16.7,"y":0.4997,"t":"M1"},{"x":11.0,"y":0.4997,"t":"M5"},{"x":21.9,"y":0.4997,"t":"M1"},{"x":23.7,"y":0.4997,"t":"M5"},{"x":25.6,"y":0.4997,"t":"M1"},{"x":29.2,"y":0.4997,"t":"M1"},{"x":15.4,"y":0.4902,"t":"M1"},{"x":15.1,"y":0.4802,"t":"M6"},{"x":18.1,"y":0.4802,"t":"M6"},{"x":18.6,"y":0.478,"t":"M1"},{"x":19.1,"y":0.4689,"t":"M1"},{"x":13.3,"y":0.4698,"t":"M6"},{"x":14.7,"y":0.4689,"t":"M5"},{"x":21.1,"y":0.4698,"t":"M6"},{"x":9.6,"y":0.4598,"t":"M5"},{"x":10.0,"y":0.4598,"t":"M5"},{"x":26.8,"y":0.4544,"t":"M1"},{"x":15.5,"y":0.4499,"t":"M6"},{"x":17.0,"y":0.4499,"t":"M6"},{"x":18.6,"y":0.4499,"t":"M6"},{"x":18.1,"y":0.4295,"t":"M6"},{"x":22.4,"y":0.4295,"t":"M5"},{"x":7.1,"y":0.41,"t":"M5"}]},
     "mark":{"type":"circle","size":140,"opacity":1},
     "encoding":{"color":{"field":"t","type":"nominal","scale":{"domain":["M1","M5","M6"],"range":["#1b9e77","#d95f02","#7570b3"]},"legend":null}}},
    {"data":{"values":[{"x":5.55,"y":0.5735}]},
     "encoding":{
      "x":{"field":"x","type":"quantitative","scale":{"domain":[3.8,31.2],"nice":false,"zero":false},"axis":{"orient":"top","values":[7.5,17.5,27.5],"labels":false,"title":null}},
      "y":{"field":"y","type":"quantitative","scale":{"domain":[0.383,0.618],"nice":false,"zero":false},"axis":{"orient":"right","values":[0.42,0.50,0.58],"labels":false,"title":null}}},
     "layer":[
      {"mark":{"type":"text","text":"ρ","font":"Liberation Serif","fontStyle":"italic","fontSize":28,"align":"left","baseline":"middle","color":"#333"}},
      {"mark":{"type":"text","text":"S","font":"Liberation Serif","fontSize":18,"align":"left","baseline":"middle","dx":16,"dy":5,"color":"#333"}},
      {"mark":{"type":"text","text":"=","font":"Liberation Serif","fontSize":27,"align":"left","baseline":"middle","dx":33,"color":"#333"}},
      {"mark":{"type":"text","text":"0.46","fontSize":23,"align":"left","baseline":"middle","dx":51,"color":"#d62e3a"}},
      {"mark":{"type":"text","text":"*","fontSize":14,"align":"left","baseline":"middle","dx":96,"dy":-7,"color":"#d62e3a"}}
     ]}
   ]},
  {"width":188,"height":174,"view":{"stroke":"#c1272d","strokeWidth":3},
   "encoding":{
    "x":{"field":"x","type":"quantitative","scale":{"domain":[0.1555,0.264],"nice":false,"zero":false},"axis":{"orient":"bottom","values":[0.17,0.21,0.25],"format":".2f","title":["Bottom 0.1 m","brine volume","fraction"]}},
    "y":{"field":"y","type":"quantitative","scale":{"domain":[0.383,0.618],"nice":false,"zero":false},"axis":{"orient":"left","values":[0.42,0.50,0.58],"labels":false,"title":null}}},
   "layer":[
    {"data":{"values":[{"x":0.2226,"y":0.5587,"t":"M5"},{"x":0.2505,"y":0.5292,"t":"M6"},{"x":0.2327,"y":0.5097,"t":"M1"},{"x":0.213,"y":0.5097,"t":"M5"},{"x":0.2084,"y":0.4997,"t":"M1"},{"x":0.2035,"y":0.4997,"t":"M5"},{"x":0.1887,"y":0.4997,"t":"M5"},{"x":0.2174,"y":0.4997,"t":"M1"},{"x":0.2203,"y":0.4997,"t":"M1"},{"x":0.2237,"y":0.4997,"t":"M1"},{"x":0.2264,"y":0.4997,"t":"M1"},{"x":0.1881,"y":0.4902,"t":"M1"},{"x":0.2088,"y":0.4793,"t":"M6"},{"x":0.2237,"y":0.4793,"t":"M1"},{"x":0.2165,"y":0.4793,"t":"M6"},{"x":0.197,"y":0.4689,"t":"M5"},{"x":0.1992,"y":0.4689,"t":"M1"},{"x":0.2165,"y":0.4698,"t":"M6"},{"x":0.2207,"y":0.4689,"t":"M6"},{"x":0.182,"y":0.4598,"t":"M5"},{"x":0.2069,"y":0.4598,"t":"M5"},{"x":0.2123,"y":0.4553,"t":"M1"},{"x":0.1782,"y":0.4499,"t":"M6"},{"x":0.1983,"y":0.4499,"t":"M6"},{"x":0.2107,"y":0.4499,"t":"M6"},{"x":0.1977,"y":0.4295,"t":"M6"},{"x":0.2123,"y":0.4295,"t":"M5"},{"x":0.174,"y":0.41,"t":"M5"}]},
     "mark":{"type":"circle","size":140,"opacity":1},
     "encoding":{"color":{"field":"t","type":"nominal","scale":{"domain":["M1","M5","M6"],"range":["#1b9e77","#d95f02","#7570b3"]},"legend":null}}},
    {"data":{"values":[{"x":0.1595,"y":0.5735}]},
     "encoding":{
      "x":{"field":"x","type":"quantitative","scale":{"domain":[0.1555,0.264],"nice":false,"zero":false},"axis":{"orient":"top","values":[0.17,0.21,0.25],"labels":false,"title":null}},
      "y":{"field":"y","type":"quantitative","scale":{"domain":[0.383,0.618],"nice":false,"zero":false},"axis":{"orient":"right","values":[0.42,0.50,0.58],"labels":false,"title":null}}},
     "layer":[
      {"mark":{"type":"text","text":"ρ","font":"Liberation Serif","fontStyle":"italic","fontSize":28,"align":"left","baseline":"middle","color":"#333"}},
      {"mark":{"type":"text","text":"S","font":"Liberation Serif","fontSize":18,"align":"left","baseline":"middle","dx":16,"dy":5,"color":"#333"}},
      {"mark":{"type":"text","text":"=","font":"Liberation Serif","fontSize":27,"align":"left","baseline":"middle","dx":33,"color":"#333"}},
      {"mark":{"type":"text","text":"0.58","fontSize":23,"align":"left","baseline":"middle","dx":51,"color":"#d62e3a"}},
      {"mark":{"type":"text","text":"**","fontSize":14,"align":"left","baseline":"middle","dx":96,"dy":-7,"color":"#d62e3a"}}
     ]}
   ]},
  {"width":188,"height":174,"view":{"stroke":"#c1272d","strokeWidth":3},
   "encoding":{
    "x":{"field":"x","type":"quantitative","scale":{"domain":[0.052,0.118],"nice":false,"zero":false},"axis":{"orient":"bottom","values":[0.06,0.08,0.10],"format":".2f","title":["Snow depth","(m)"]}},
    "y":{"field":"y","type":"quantitative","scale":{"domain":[0.383,0.618],"nice":false,"zero":false},"axis":{"orient":"left","values":[0.42,0.50,0.58],"labels":false,"title":null}}},
   "layer":[
    {"data":{"values":[{"x":0.0748,"y":0.5587,"t":"M5"},{"x":0.0921,"y":0.5292,"t":"M6"},{"x":0.0941,"y":0.5097,"t":"M5"},{"x":0.0627,"y":0.4997,"t":"M1"},{"x":0.0687,"y":0.4997,"t":"M1"},{"x":0.0746,"y":0.5097,"t":"M1"},{"x":0.0808,"y":0.4997,"t":"M1"},{"x":0.0909,"y":0.4997,"t":"M5"},{"x":0.0944,"y":0.4984,"t":"M1"},{"x":0.1021,"y":0.4997,"t":"M5"},{"x":0.0992,"y":0.4902,"t":"M1"},{"x":0.079,"y":0.4802,"t":"M1"},{"x":0.096,"y":0.4802,"t":"M6"},{"x":0.0968,"y":0.4793,"t":"M6"},{"x":0.0766,"y":0.4698,"t":"M6"},{"x":0.0798,"y":0.4698,"t":"M6"},{"x":0.0968,"y":0.4689,"t":"M5"},{"x":0.082,"y":0.4598,"t":"M5"},{"x":0.0891,"y":0.4598,"t":"M5"},{"x":0.101,"y":0.4567,"t":"M1"},{"x":0.0879,"y":0.4499,"t":"M6"},{"x":0.0972,"y":0.4499,"t":"M6"},{"x":0.1024,"y":0.4499,"t":"M6"},{"x":0.0972,"y":0.4295,"t":"M6"},{"x":0.1087,"y":0.4295,"t":"M5"},{"x":0.0909,"y":0.41,"t":"M5"}]},
     "mark":{"type":"circle","size":140,"opacity":1},
     "encoding":{"color":{"field":"t","type":"nominal","scale":{"domain":["M1","M5","M6"],"range":["#1b9e77","#d95f02","#7570b3"]},"legend":null}}},
    {"data":{"values":[{"x":0.0618,"y":0.5937}]},
     "encoding":{
      "x":{"field":"x","type":"quantitative","scale":{"domain":[0.052,0.118],"nice":false,"zero":false},"axis":{"orient":"top","values":[0.06,0.08,0.10],"labels":false,"title":null}},
      "y":{"field":"y","type":"quantitative","scale":{"domain":[0.383,0.618],"nice":false,"zero":false},"axis":{"orient":"right","values":[0.42,0.50,0.58],"labels":false,"title":null}}},
     "layer":[
      {"mark":{"type":"text","text":"ρ","font":"Liberation Serif","fontStyle":"italic","fontSize":28,"align":"left","baseline":"middle","color":"#333"}},
      {"mark":{"type":"text","text":"S","font":"Liberation Serif","fontSize":18,"align":"left","baseline":"middle","dx":16,"dy":5,"color":"#333"}},
      {"mark":{"type":"text","text":"=","font":"Liberation Serif","fontSize":27,"align":"left","baseline":"middle","dx":33,"color":"#333"}},
      {"mark":{"type":"text","text":"-0.39","fontSize":23,"align":"left","baseline":"middle","dx":51,"color":"#d62e3a"}},
      {"mark":{"type":"text","text":"*","fontSize":14,"align":"left","baseline":"middle","dx":104,"dy":-7,"color":"#d62e3a"}}
     ]}
   ]},
  {"width":188,"height":174,"view":{"stroke":"#222","strokeWidth":2},
   "encoding":{
    "x":{"field":"x","type":"quantitative","scale":{"domain":[0.383,0.618],"nice":false,"zero":false},"axis":{"values":[0.42,0.50,0.58],"format":".2f","title":["Ice thickness","(m)"]}},
    "y":{"field":"y","type":"quantitative","scale":{"domain":[0,16.3],"nice":false,"zero":false},"axis":null}},
   "layer":[
    {"data":{"values":[{"x":0.398,"x2":0.440,"y":3.3},{"x":0.440,"x2":0.482,"y":15},{"x":0.482,"x2":0.524,"y":10.3},{"x":0.524,"x2":0.566,"y":1},{"x":0.566,"x2":0.606,"y":1}]},
     "mark":{"type":"rect","fill":"#c8c8c8","stroke":"#ffffff","strokeWidth":1.5},
     "encoding":{"x2":{"field":"x2"},"y2":{"datum":0}}},
    {"data":{"values":[{"x":0.3868,"y":15.36,"s":"μ"},{"x":0.3868,"y":11.99,"s":"σ"}]},
     "layer":[
      {"mark":{"type":"text","font":"Liberation Serif","fontStyle":"italic","fontSize":24,"align":"left","baseline":"middle","color":"#222"},"encoding":{"text":{"field":"s"}}},
      {"mark":{"type":"text","text":"=","font":"Liberation Serif","fontSize":25,"align":"left","baseline":"middle","dx":19,"color":"#222"}}
     ]},
    {"data":{"values":[{"x":0.593,"y":14.33,"s":"0.48"},{"x":0.593,"y":11.99,"s":"0.03"}]},
     "mark":{"type":"text","fontSize":18,"align":"right","baseline":"middle","color":"#111"},"encoding":{"text":{"field":"s"}}}
   ]}
]
}
